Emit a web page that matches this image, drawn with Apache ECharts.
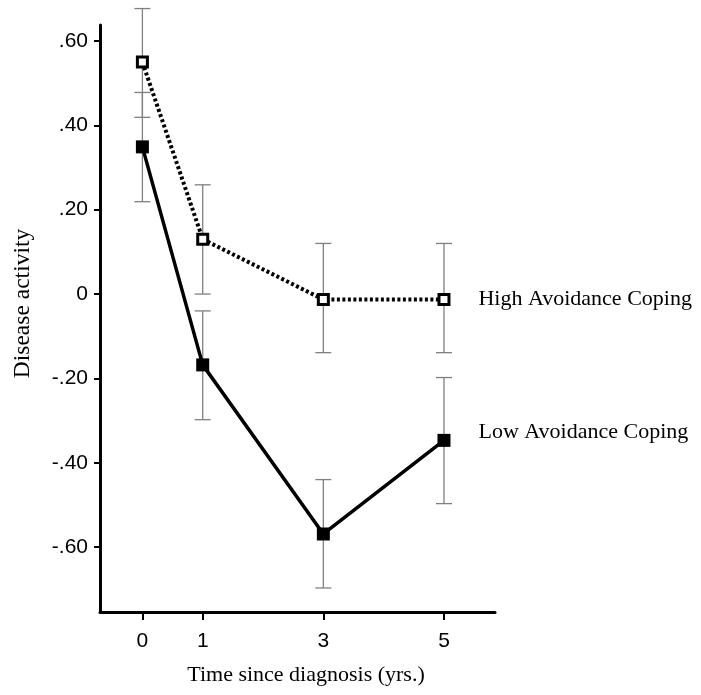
<!DOCTYPE html>
<html>
<head>
<meta charset="utf-8">
<script src="https://cdn.jsdelivr.net/npm/echarts@6/dist/echarts.min.js"></script>
<style>
  html, body { margin: 0; padding: 0; background: #fff; }
  #chart { width: 701px; height: 695px; }
</style>
</head>
<body>
<div id="chart"></div>
<script>
// 数据
const years = [0, 1, 3, 5]
const yTicks = [-0.6, -0.4, -0.2, 0, 0.2, 0.4, 0.6]

const highMean = [0.55, 0.13, -0.013, -0.013]
const highUpper = [0.677, 0.259, 0.12, 0.12]
const highLower = [0.419, 0.0, -0.139, -0.139]

const lowMean = [0.349, -0.168, -0.569, -0.347]
const lowUpper = [0.478, -0.04, -0.44, -0.198]
const lowLower = [0.219, -0.298, -0.697, -0.497]

const seriesNames = ['High Avoidance Coping', 'Low Avoidance Coping']

const serif = '"Liberation Serif", "Times New Roman", serif'
const sans = '"Liberation Sans", Arial, sans-serif'

const chart = echarts.init(document.getElementById('chart'))

// 误差线数据: [x, lower, upper]
const errData = []
years.forEach((x, i) => {
  errData.push([x, highLower[i], highUpper[i]])
  errData.push([x, lowLower[i], lowUpper[i]])
})

const renderErrorBar = (params, api) => {
  const x = api.value(0)
  const lo = api.coord([x, api.value(1)])
  const hi = api.coord([x, api.value(2)])
  const half = 8
  const style = { stroke: '#808080', lineWidth: 1.3 }
  return {
    type: 'group',
    children: [
      { type: 'line', shape: { x1: lo[0], y1: lo[1], x2: hi[0], y2: hi[1] }, style },
      { type: 'line', shape: { x1: hi[0] - half, y1: hi[1], x2: hi[0] + half, y2: hi[1] }, style },
      { type: 'line', shape: { x1: lo[0] - half, y1: lo[1], x2: lo[0] + half, y2: lo[1] }, style }
    ]
  }
}

const makeData = (vals, labelOffset) => vals.map((v, i) => {
  const item = { value: [years[i], v] }
  if (i === vals.length - 1) {
    item.label = {
      show: true,
      position: 'right',
      distance: 28,
      offset: labelOffset,
      formatter: '{a}',
      fontFamily: serif,
      fontSize: 22,
      color: '#000'
    }
  }
  return item
})

const fmtY = (v) => {
  if (Math.abs(v) < 1e-9) return '0'
  const s = String(Math.round(Math.abs(v) * 100)).padStart(2, '0')
  return (v < 0 ? '-.' : '.') + s
}

const option = {
  animation: false,
  backgroundColor: '#fff',
  grid: { left: 100, right: 206, top: 25, bottom: 83 },
  xAxis: {
    type: 'value',
    min: -0.703,
    max: 5.846,
    name: 'Time since diagnosis (yrs.)',
    nameLocation: 'middle',
    nameGap: 52,
    nameTextStyle: { fontFamily: serif, fontSize: 22, color: '#000', padding: [0, 0, 0, 17] },
    axisLine: { onZero: false, lineStyle: { color: '#000', width: 3 } },
    axisTick: { show: true, customValues: years, length: 8, lineStyle: { color: '#000', width: 2 } },
    axisLabel: { customValues: years, margin: 19, fontFamily: sans, fontSize: 21, color: '#000' },
    splitLine: { show: false }
  },
  yAxis: {
    type: 'value',
    min: -0.754,
    max: 0.638,
    name: 'Disease activity',
    nameLocation: 'middle',
    nameGap: 65,
    nameTextStyle: { fontFamily: serif, fontSize: 23.5, color: '#000', padding: [0, 0, 0, 30] },
    axisLine: { show: true, onZero: false, lineStyle: { color: '#000', width: 3 } },
    axisTick: { show: true, customValues: yTicks, length: 6, lineStyle: { color: '#000', width: 2 } },
    axisLabel: { customValues: yTicks, margin: 12, fontFamily: sans, fontSize: 21, color: '#000', formatter: fmtY },
    splitLine: { show: false }
  },
  series: [
    {
      type: 'custom',
      name: 'err',
      data: errData,
      renderItem: renderErrorBar,
      clip: false,
      z: 1,
      silent: true
    },
    {
      name: seriesNames[1],
      type: 'line',
      data: makeData(lowMean, [0, -8]),
      symbol: 'rect',
      symbolSize: 13,
      lineStyle: { color: '#000', width: 3.5 },
      itemStyle: { color: '#000' },
      z: 3
    },
    {
      name: seriesNames[0],
      type: 'line',
      data: makeData(highMean, [0, 0]),
      symbol: 'rect',
      symbolSize: 10,
      lineStyle: { color: '#000', width: 4, type: [3, 2.5] },
      itemStyle: { color: '#fff', borderColor: '#000', borderWidth: 3 },
      z: 4
    }
  ]
}

chart.setOption(option)
</script>
</body>
</html>
